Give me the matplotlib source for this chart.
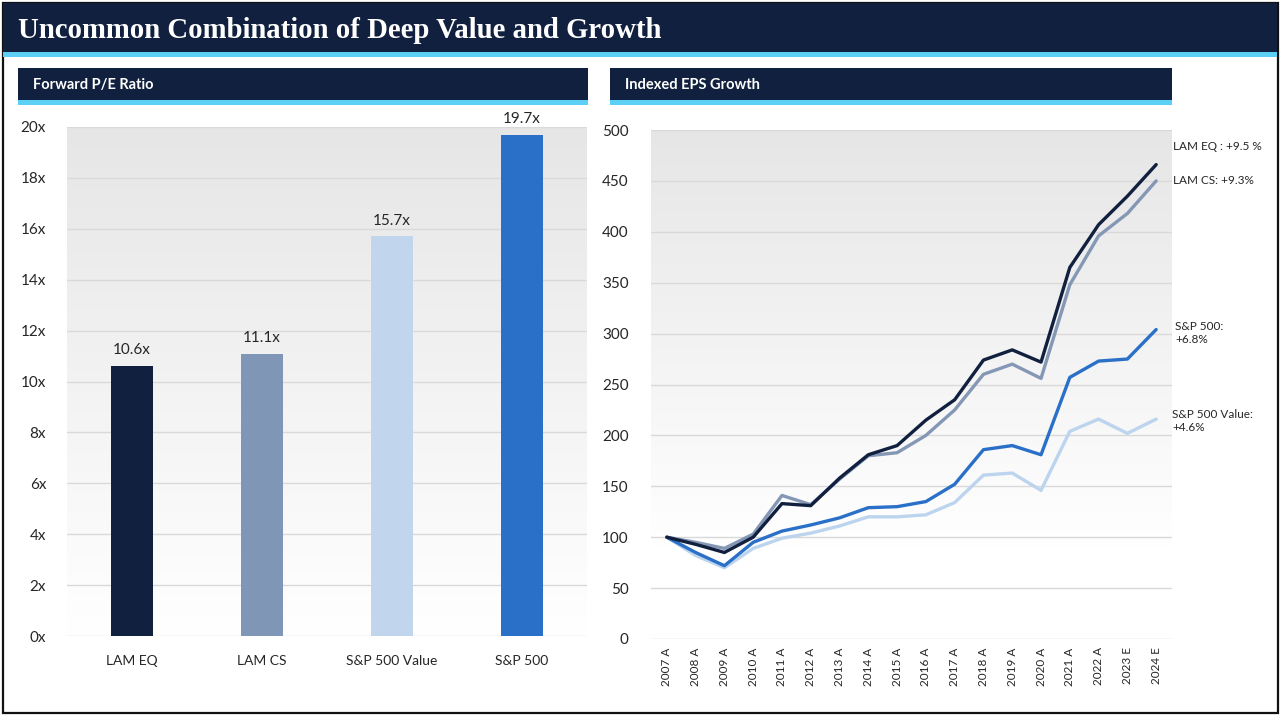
import numpy as np
import matplotlib
matplotlib.use("Agg")
import matplotlib.pyplot as plt
from matplotlib.patches import Rectangle

# ---------------- data ----------------
bar_categories = ["LAM EQ", "LAM CS", "S&P 500 Value", "S&P 500"]
pe_values = [10.6, 11.1, 15.7, 19.7]
pe_labels = ["10.6x", "11.1x", "15.7x", "19.7x"]
pe_ticks = [0, 2, 4, 6, 8, 10, 12, 14, 16, 18, 20]

years = ["2007 A", "2008 A", "2009 A", "2010 A", "2011 A", "2012 A", "2013 A",
         "2014 A", "2015 A", "2016 A", "2017 A", "2018 A", "2019 A", "2020 A",
         "2021 A", "2022 A", "2023 E", "2024 E"]
lam_eq = [100, 93, 85, 100, 133, 131, 158, 181, 190, 215, 235, 274, 284, 272, 365, 407, 435, 466]
lam_cs = [100, 95, 89, 103, 141, 132, 157, 180, 183, 200, 225, 260, 270, 256, 348, 396, 418, 450]
sp500 = [100, 85, 72, 95, 106, 112, 119, 129, 130, 135, 152, 186, 190, 181, 257, 273, 275, 304]
sp500_value = [100, 82, 70, 89, 99, 104, 111, 120, 120, 122, 134, 161, 163, 146, 204, 216, 202, 216]
eps_ticks = [0, 50, 100, 150, 200, 250, 300, 350, 400, 450, 500]
end_labels = ["LAM EQ : +9.5 %", "LAM CS: +9.3%", "S&P 500:\n+6.8%", "S&P 500 Value:\n+4.6%"]

# ---------------- style ----------------
NAVY = "#10203e"
CYAN = "#5ccff5"
bar_colors = ["#12203f", "#8096b7", "#c1d6ec", "#2a70c8"]
line_colors = ["#10203e", "#8497b5", "#2a70c8", "#bcd4ee"]
TXT = "#262626"
SANS = ["Lato", "DejaVu Sans"]

W, H = 1280, 715
fig = plt.figure(figsize=(W / 100, H / 100), dpi=100)
fig.patch.set_facecolor("white")

# overlay axes in pixel coords
ov = fig.add_axes([0, 0, 1, 1], zorder=0)
ov.set_xlim(0, W)
ov.set_ylim(H, 0)
ov.axis("off")

# outer border
ov.add_patch(Rectangle((2.5, 2.5), W - 5, H - 5, fill=False, ec="#111111", lw=1.6))
# title bar
ov.add_patch(Rectangle((3, 3), W - 6, 49, fc=NAVY, ec="none"))
ov.add_patch(Rectangle((3, 52), W - 6, 5, fc=CYAN, ec="none"))
ov.text(18, 31, "Uncommon Combination of Deep Value and Growth", color="white",
        fontsize=20.7, fontweight="bold", family=["Liberation Serif", "DejaVu Serif"],
        va="center", ha="left")

# panel headers
for x0, x1, label in [(18, 588, "Forward P/E Ratio"), (610, 1172, "Indexed EPS Growth")]:
    ov.add_patch(Rectangle((x0, 68), x1 - x0, 32, fc=NAVY, ec="none"))
    ov.add_patch(Rectangle((x0, 100), x1 - x0, 5, fc=CYAN, ec="none"))
    ov.text(x0 + 15, 85, label, color="white", fontsize=10.5, fontweight="bold",
            family=SANS, va="center", ha="left")


def gradient_bg(ax, ymid, ytop):
    n = 256
    t = np.linspace(0, 1, n)
    top = np.array([0.902, 0.902, 0.902])
    bot = np.array([1.0, 1.0, 1.0])
    img = (top[None, :] * (1 - t[:, None]) + bot[None, :] * t[:, None]).reshape(n, 1, 3)
    xl = ax.get_xlim()
    ax.imshow(img, extent=[xl[0], xl[1], ymid, ytop], aspect="auto", zorder=0,
              interpolation="bilinear")
    ax.set_xlim(xl)


# ---------------- left: bar chart ----------------
axL = fig.add_axes([67 / W, (H - 636) / H, 520 / W, 509 / H], zorder=2)
axL.set_xlim(-0.5, 3.5)
gradient_bg(axL, 0, 20)
axL.set_ylim(0, 20)
x = np.arange(len(bar_categories))
axL.bar(x, pe_values, width=0.32, color=bar_colors, zorder=3)
for xi, v, lab in zip(x, pe_values, pe_labels):
    axL.text(xi, v + 0.35, lab, ha="center", va="bottom", fontsize=11, color=TXT,
             family=SANS, zorder=4)
axL.set_yticks(pe_ticks)
axL.set_yticklabels([f"{t}x" for t in pe_ticks], family=SANS, fontsize=11, color=TXT)
axL.set_xticks(x)
axL.set_xticklabels(bar_categories, family=SANS, fontsize=10, color=TXT)
axL.yaxis.grid(True, color="#d9d9d9", lw=1, zorder=1)
axL.set_axisbelow(True)
for s in axL.spines.values():
    s.set_visible(False)
axL.tick_params(length=0)
axL.tick_params(axis="y", pad=15)
axL.tick_params(axis="x", pad=14)

# ---------------- right: line chart ----------------
axR = fig.add_axes([651 / W, (H - 639) / H, 521 / W, 509 / H], zorder=2)
xs = np.arange(len(years))
axR.set_xlim(-0.55, len(years) - 0.45)
gradient_bg(axR, 90, 500)
axR.set_ylim(0, 500)
series = [lam_eq, lam_cs, sp500, sp500_value]
for i in [3, 2, 1, 0]:
    axR.plot(xs, series[i], color=line_colors[i], lw=2.4, zorder=3 + (3 - i),
             solid_joinstyle="round", solid_capstyle="round")
axR.set_yticks(eps_ticks)
axR.set_yticklabels([str(t) for t in eps_ticks], family=SANS, fontsize=11, color=TXT)
axR.set_xticks(xs)
axR.set_xticklabels(years, rotation=90, family=SANS, fontsize=8.5, color=TXT)
axR.yaxis.grid(True, color="#d9d9d9", lw=1, zorder=1)
axR.set_axisbelow(True)
for s in axR.spines.values():
    s.set_visible(False)
axR.tick_params(length=0)
axR.tick_params(axis="y", pad=16)
axR.tick_params(axis="x", pad=6)

# end labels
label_pos = [(1173, 147), (1173, 180), (1175, 333), (1172, 421)]
for (px, py), lab in zip(label_pos, end_labels):
    ov.text(px, py, lab, fontsize=8.5, color=TXT, family=SANS, va="center", ha="left",
            linespacing=1.25)

fig.savefig("out.png", dpi=100, facecolor="white")
